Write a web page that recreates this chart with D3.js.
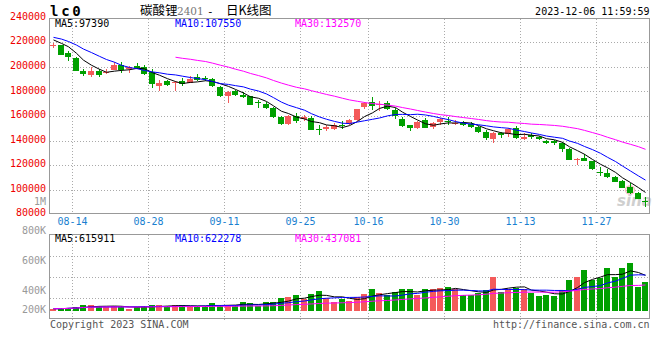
<!DOCTYPE html>
<html><head><meta charset="utf-8">
<script src="https://cdn.jsdelivr.net/npm/d3@7"></script>
<style>
body{margin:0;background:#fff}
svg{display:block}
text{font-family:"DejaVu Sans Mono",monospace;font-size:10px}
</style>
</head><body><svg id="c" width="660" height="360"></svg>
<script>
const dates = ["08-10","08-11","08-14","08-15","08-16","08-17","08-18","08-21","08-22","08-23","08-24","08-25","08-28","08-29","08-30","08-31",
"09-01","09-04","09-05","09-06","09-07","09-08","09-11","09-12","09-13","09-14","09-15","09-18","09-19","09-20","09-21","09-22","09-25","09-26","09-27","09-28",
"10-09","10-10","10-11","10-12","10-13","10-16","10-17","10-18","10-19","10-20","10-23","10-24","10-25","10-26","10-27","10-30","10-31",
"11-01","11-02","11-03","11-06","11-07","11-08","11-09","11-10","11-13","11-14","11-15","11-16","11-17","11-20","11-21","11-22","11-23","11-24","11-27","11-28","11-29","11-30",
"12-01","12-04","12-05","12-06"];
const opens = [217200,217800,211020,207500,196900,193110,196920,194740,197730,201530,198270,200710,200170,195560,184700,188770,187150,188770,186880,191760,
190950,190130,183890,176570,180090,177380,176020,171140,169780,166530,159200,153500,160020,157300,158390,149440,149710,149440,152420,153230,
156490,167340,171680,168970,170600,164900,157840,152690,150250,156760,150790,154860,155950,153230,154590,153500,150790,147270,141570,145910,
145370,150400,141030,144820,143200,139670,139670,138310,133150,124600,126100,123390,114710,113350,110640,107380,101960,97080,90700];
const highs = [219200,218070,212650,207770,198270,200170,198000,198000,203700,204240,200710,203150,201800,198000,189320,189320,188770,190670,192570,193930,
192840,190670,184430,180360,181180,179550,176300,173040,171140,167610,160020,160560,162190,160830,160020,152690,152420,154590,156220,157300,
165990,171680,175750,172220,172220,166260,159470,152690,155680,158660,155400,158110,158930,156760,156220,155400,151880,148620,146990,147270,
150250,152000,146450,145910,143740,140480,140480,139120,133700,125600,129090,123660,118780,116610,111450,107930,105210,97890,93800];
const lows = [215100,209660,205050,196900,192840,192030,192030,194470,197460,195290,195290,198000,193390,183080,180360,184700,180090,184430,186600,188770,
188770,183350,175750,170870,176300,174400,168700,166800,165440,158390,152690,152960,154050,156220,148400,144820,148080,148350,149170,152690,
155950,165720,164630,164090,164900,157300,151060,147810,149710,149980,149170,152690,152690,152690,151880,149980,146450,140480,138310,142380,
143200,141300,140480,141570,140480,137500,136410,130990,124210,120100,123120,116060,111450,109280,106030,101140,96530,92200,85700];
const closes = [217500,209900,208310,196920,194470,196920,193390,196100,201530,197460,199630,199360,193930,185790,187150,185520,187690,185790,190400,189320,
190130,184700,176570,179550,177110,175480,169240,170600,166530,159200,153500,160020,156220,158930,148620,148890,150790,152960,151600,156490,
165720,170600,168160,169510,165990,160020,151880,150520,155130,150520,154050,157300,154860,154320,152960,151340,147270,141840,146450,144280,
149170,142200,143200,142650,141030,138310,137770,132880,124400,125300,123660,116610,113350,110100,106570,101690,97080,92740,90400];
const volumes = [40000,42000,60000,70000,100000,100000,83000,70000,83000,83000,42000,70000,83000,100000,100000,83000,100000,100000,83000,83000,
83000,140000,100000,100000,100000,155000,140000,83000,155000,160000,230000,248000,284000,213000,301000,354000,230000,154000,213000,177000,
248000,301000,390000,319000,284000,337000,390000,390000,284000,390000,390000,408000,425000,390000,284000,284000,319000,372000,602000,345000,
388000,405000,395000,317000,266000,284000,266000,372000,549000,602000,727000,549000,579000,765000,602000,765000,845000,431000,514000];
// closes of the trading days before the first visible candle (estimated from the MA lines)
const priorCloses = [212000,214000,217000,217000,224000,228000,226000,227000,225500,224000,222000,223500,222500];
const priceTicks = [240000,220000,200000,180000,160000,140000,120000,100000,80000];
const dateTicks = ["08-14","08-28","09-11","09-25","10-16","10-30","11-13","11-27"];
const volTicks = [800000,600000,400000,200000];
const volTickText = ["800K","600K","400K","200K"];
const maPeriods = [5,10,30];
const maColors = ["#000000","#0000ff","#ff00ff"];
const priceMaHeader = [97390,107550,132570];
const volMaHeader = [615911,622278,437081];

const svg = d3.select("#c");
const L = 49.5, R = 649.5, T = 18.5, B = 213.5, VT = 234.5, VB = 318.5;
const RED = "#f45a5a", GREEN = "#00a000";

const x = d3.scaleBand().domain(dates).range([49.7, 649.3]).padding(0);
const y = d3.scaleLinear().domain([80000, 240000]).range([214.2, 17.7]);
const yv = d3.scaleLinear().domain([0, 1359000]).range([311, 234.3]);
const yl = d3.scaleLinear().domain([200000, 800000]).range([324, 234]);

svg.append("rect").attr("width",660).attr("height",360).attr("fill","#fff");

// grids
const gg = svg.append("g").attr("stroke","#aaa").attr("stroke-dasharray","1,2").attr("shape-rendering","crispEdges");
priceTicks.filter(v => v < 240000 && v > 80000).forEach(v => {
  const yy = Math.round(y(v)) + 0.5;
  gg.append("line").attr("x1",L).attr("x2",R).attr("y1",yy).attr("y2",yy);
});
[1,2,3].forEach(k => {
  const yy = Math.round(VT + (VB - VT) * k / 4) + 0.5;
  gg.append("line").attr("x1",L).attr("x2",R).attr("y1",yy).attr("y2",yy);
});
dateTicks.forEach(d => {
  const xx = Math.round(x(d) + x.bandwidth()) + 0.5;
  gg.append("line").attr("x1",xx).attr("x2",xx).attr("y1",T).attr("y2",B);
  gg.append("line").attr("x1",xx).attr("x2",xx).attr("y1",VT).attr("y2",VB + 3);
  svg.append("text").attr("x",xx).attr("y",225).attr("text-anchor","middle").attr("fill","#1a7fd0").text(d);
});

// watermark
svg.append("ellipse").attr("cx",630).attr("cy",190).attr("rx",4.5).attr("ry",4).attr("fill","none").attr("stroke","#f5c0c0").attr("stroke-width",1.5);
svg.append("text").attr("x",617).attr("y",206).attr("fill","#cfcfcf").style("font-family","DejaVu Sans").style("font-size","15px").style("font-weight","bold").style("font-style","italic").text("sina");

// candles
const n = dates.length;
const cg = svg.append("g").attr("shape-rendering","crispEdges");
for (let i = 0; i < n; i++) {
  const d = dates[i];
  const up = closes[i] >= opens[i];
  const col = up ? RED : GREEN;
  const bx = Math.round(x(d) + 0.4);
  const cx = bx + 3;
  const yh = Math.round(y(highs[i])), yl2 = Math.round(y(lows[i]));
  const yo = Math.round(y(opens[i])), yc = Math.round(y(closes[i]));
  cg.append("rect").attr("x",cx).attr("y",yh).attr("width",1).attr("height",Math.max(1,yl2 - yh)).attr("fill",col);
  const top = Math.min(yo, yc), h = Math.max(1, Math.abs(yo - yc));
  cg.append("rect").attr("x",bx).attr("y",top).attr("width",6).attr("height",h).attr("fill",col);
  // volume
  const vy = Math.round(yv(volumes[i]));
  cg.append("rect").attr("x",bx).attr("y",vy).attr("width",6).attr("height",Math.max(1, Math.round(yv(0)) - vy)).attr("fill",col);
}

// moving averages
const full = priorCloses.concat(closes);
const P = priorCloses.length;
function priceMA(p) {
  return closes.map((c, i) => {
    const end = i + P;
    if (end + 1 < p) return null;
    return d3.mean(full.slice(end - p + 1, end + 1));
  });
}
function volMA(p) {
  return volumes.map((v, i) => d3.mean(volumes.slice(Math.max(0, i - p + 1), i + 1)));
}
const cxOf = i => Math.round(x(dates[i]) + 0.4) + 3.5;
maPeriods.forEach((p, k) => {
  const m = priceMA(p);
  const line = d3.line().defined(v => v != null).x((v, i) => cxOf(i)).y(v => y(v));
  svg.append("path").attr("d", line(m)).attr("fill","none").attr("stroke",maColors[k]).attr("stroke-width",1);
  const mv = volMA(p);
  const line2 = d3.line().x((v, i) => cxOf(i)).y(v => yv(v));
  svg.append("path").attr("d", line2(mv)).attr("fill","none").attr("stroke",maColors[k]).attr("stroke-width",1);
});

// frames
svg.append("rect").attr("x",L).attr("y",T).attr("width",R-L).attr("height",B-T).attr("fill","none").attr("stroke","#999");
svg.append("rect").attr("x",L).attr("y",VT).attr("width",R-L).attr("height",VB-VT).attr("fill","none").attr("stroke","#999");

// price axis labels
priceTicks.forEach(v => {
  svg.append("text").attr("x",46).attr("y",y(v) + 2.2).attr("text-anchor","end").attr("fill","#ee0000").text(v);
});
svg.append("text").attr("x",46).attr("y",204.5).attr("text-anchor","end").attr("fill","#999").text("1M");
// volume axis labels
volTicks.forEach((v, k) => {
  svg.append("text").attr("x",46).attr("y",Math.min(yl(v), 313.3)).attr("text-anchor","end").attr("fill","#999").text(volTickText[k]);
});

// legends
const lx = [55, 175, 295];
maPeriods.forEach((p, k) => {
  svg.append("text").attr("x",lx[k]).attr("y",27.3).attr("fill",maColors[k]).text("MA" + p + ":" + priceMaHeader[k]);
  svg.append("text").attr("x",lx[k]).attr("y",241.6).attr("fill",maColors[k]).text("MA" + p + ":" + volMaHeader[k]);
});

// header
svg.append("text").attr("x",50).attr("y",15.5).attr("fill","#000").style("font-size","14px").style("font-weight","bold").style("letter-spacing","2.7px").text("lc0");
const cjk = "'Noto Sans CJK SC',sans-serif";
svg.append("text").attr("x",140).attr("y",15).style("font-family",cjk).style("font-size","12.5px").attr("fill","#000").text("碳酸锂");
svg.append("text").attr("x",177).attr("y",15).style("font-family","'DejaVu Serif',serif").style("font-size","10.5px").attr("fill","#777").text("2401");
svg.append("text").attr("x",207).attr("y",15).style("font-size","11px").attr("fill","#000").text("-");
svg.append("text").attr("x",226).attr("y",15).style("font-family",cjk).style("font-size","12.5px").attr("fill","#000").text("日K线图");
svg.append("text").attr("x",649.5).attr("y",15).attr("text-anchor","end").attr("fill","#000").text("2023-12-06 11:59:59");

// footer
svg.append("text").attr("x",50).attr("y",327.5).attr("fill","#555").text("Copyright 2023 SINA.COM");
svg.append("text").attr("x",649.5).attr("y",327.5).attr("text-anchor","end").attr("fill","#555").text("http://finance.sina.com.cn");
</script>
</body></html>
